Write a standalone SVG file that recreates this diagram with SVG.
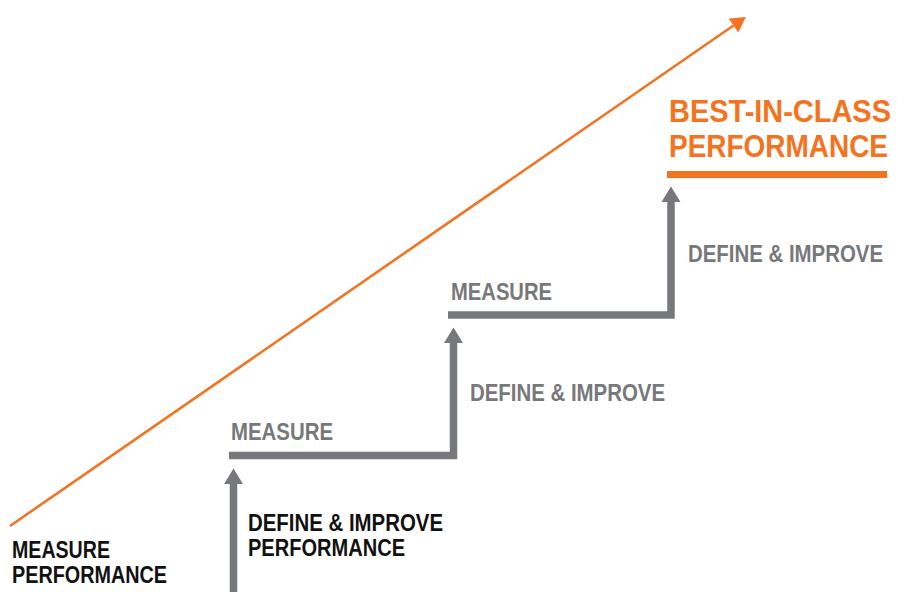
<svg xmlns="http://www.w3.org/2000/svg" width="906" height="592" viewBox="0 0 906 592">
<defs>
<style>
.t{font-family:"Liberation Sans",Arial,sans-serif;font-weight:bold;}
.g{fill:#77787b;font-size:24px;}
.k{fill:#111111;font-size:23.5px;}
.o{fill:#f47321;font-size:32px;}
.step{fill:none;stroke:#77787b;stroke-width:7.5;stroke-linejoin:miter;}
</style>
<marker id="ga" markerUnits="userSpaceOnUse" markerWidth="16" markerHeight="20" refX="0" refY="9.5" orient="auto" overflow="visible">
<path d="M0,0 L15.5,9.5 L0,19 Z" fill="#77787b"/>
</marker>
<marker id="oa" markerUnits="userSpaceOnUse" markerWidth="16" markerHeight="18" refX="0" refY="8.5" orient="auto" overflow="visible">
<path d="M0,0 L15,8.5 L0,17 Z" fill="#f47321"/>
</marker>
</defs>
<rect width="906" height="592" fill="#ffffff"/>
<g id="connectors">
<line x1="10" y1="526" x2="733.5" y2="25.5" stroke="#f47321" stroke-width="2.6" marker-end="url(#oa)"/>
<polyline class="step" points="233.5,592 233.5,484" marker-end="url(#ga)"/>
<polyline class="step" points="229,455.5 453.5,455.5 453.5,343" marker-end="url(#ga)"/>
<polyline class="step" points="448,315 671,315 671,202" marker-end="url(#ga)"/>
</g>
<g id="start">
<text class="t k" x="12" y="558" textLength="98" lengthAdjust="spacingAndGlyphs">MEASURE</text>
<text class="t k" x="12" y="583" textLength="155" lengthAdjust="spacingAndGlyphs">PERFORMANCE</text>
</g>
<g id="define1">
<text class="t k" x="248" y="531" textLength="195" lengthAdjust="spacingAndGlyphs">DEFINE &amp; IMPROVE</text>
<text class="t k" x="248" y="556" textLength="157" lengthAdjust="spacingAndGlyphs">PERFORMANCE</text>
</g>
<g id="measure1">
<text class="t g" x="231" y="440" textLength="102" lengthAdjust="spacingAndGlyphs">MEASURE</text>
</g>
<g id="define2">
<text class="t g" x="470" y="401" textLength="195" lengthAdjust="spacingAndGlyphs">DEFINE &amp; IMPROVE</text>
</g>
<g id="measure2">
<text class="t g" x="451" y="300" textLength="101" lengthAdjust="spacingAndGlyphs">MEASURE</text>
</g>
<g id="define3">
<text class="t g" x="688" y="262" textLength="195" lengthAdjust="spacingAndGlyphs">DEFINE &amp; IMPROVE</text>
</g>
<g id="best">
<text class="t o" x="669" y="122" textLength="222" lengthAdjust="spacingAndGlyphs">BEST-IN-CLASS</text>
<text class="t o" x="669" y="157" textLength="219" lengthAdjust="spacingAndGlyphs">PERFORMANCE</text>
<rect x="667" y="171" width="220" height="7" fill="#f47321"/>
</g>
</svg>
